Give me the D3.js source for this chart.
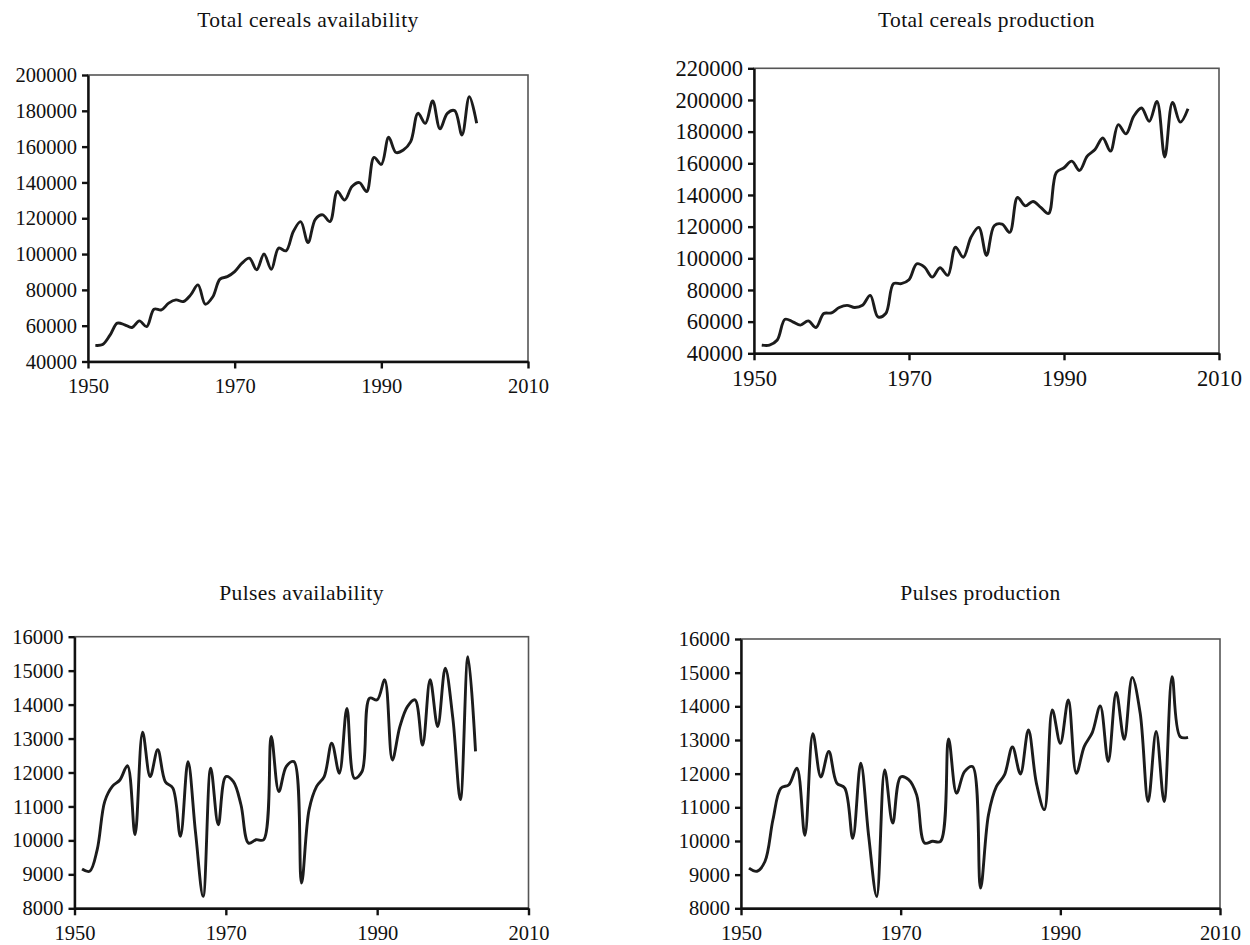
<!DOCTYPE html>
<html>
  <head>
    <meta charset="utf-8">
    <title>Cereals and pulses</title>
    <style>
    body { margin: 0; border: 0; overflow: hidden; background: #fff; }
    .axis path, .axis line {
      fill: none;
      stroke: #111;
      stroke-width: 2.4px;
    }
    .axis text {
      font-family: "Liberation Serif", serif;
      font-size: 20.5px;
      fill: #111;
    }
    .big .axis text {
      font-size: 22.5px;
    }
    .title {
      font-family: "Liberation Serif", serif;
      font-size: 21.5px;
      letter-spacing: 0.4px;
      fill: #111;
    }
    .frame {
      fill: none;
      stroke: #555;
      stroke-width: 1.6px;
    }
    .series {
      fill: none;
      stroke: #1c1c1c;
      stroke-width: 2.9px;
      stroke-linejoin: round;
    }
    </style>
  </head>
  <body>
    <script src="https://cdnjs.cloudflare.com/ajax/libs/d3/7.8.5/d3.min.js"></script>
    <script>
// data (thousand tonnes)
var cerealYears = [1951, 1952, 1953, 1954, 1955, 1956, 1957, 1958, 1959, 1960,
  1961, 1962, 1963, 1964, 1965, 1966, 1967, 1968, 1969, 1970,
  1971, 1972, 1973, 1974, 1975, 1976, 1977, 1978, 1979, 1980,
  1981, 1982, 1983, 1984, 1985, 1986, 1987, 1988, 1989, 1990,
  1991, 1992, 1993, 1994, 1995, 1996, 1997, 1998, 1999, 2000,
  2001, 2002, 2003];
var prodYears = cerealYears.concat([2004, 2005, 2006]);

var cerealAvail = [49000, 49500, 54700, 61400, 60500, 59000, 62700, 59500, 69200, 68800,
  72600, 74400, 73500, 77200, 82800, 72000, 76000, 86000, 87400, 90200,
  94900, 97700, 91200, 100000, 91500, 103300, 101800, 112600, 118100, 106400,
  119400, 121900, 118100, 134900, 130200, 137700, 139900, 134900, 154000, 150100,
  165200, 156700, 158100, 162800, 178600, 173000, 185500, 169900, 178600, 180100,
  166500, 187900, 173000];

var cerealProd = [45200, 45200, 48400, 61500, 59900, 57800, 60500, 56300, 65100, 65500,
  68900, 70300, 68900, 70300, 76600, 63000, 65100, 84000, 84000, 86500,
  96500, 94400, 88100, 94000, 89200, 107000, 100700, 113300, 119500, 101800,
  120600, 121600, 116400, 138400, 133100, 135900, 132100, 128300, 154100, 157200,
  161400, 155500, 164500, 168700, 176000, 167700, 184400, 178600, 189700, 194900,
  186500, 199100, 164000, 198500, 186000, 194500];

var pulsesAvail = [9160, 9090, 9730, 11150, 11590, 11780, 12200, 10170, 13190, 11880,
  12670, 11730, 11540, 10120, 12320, 10220, 8350, 12130, 10460, 11880,
  11730, 11050, 9920, 10020, 10020, 13060, 11440, 12180, 12320, 8745,
  10900, 11590, 11880, 12860, 11980, 13890, 11830, 12030, 14190, 14140,
  14730, 12370, 13350, 13940, 14140, 12810, 14730, 13350, 15070, 13600,
  11200, 15410, 12620];

var pulsesProd = [9195, 9100, 9390, 10630, 11570, 11670, 12160, 10170, 13190, 11900,
  12660, 11720, 11570, 10080, 12310, 10130, 8350, 12110, 10530, 11900,
  11820, 11370, 9940, 9990, 9990, 13030, 11420, 12060, 12210, 8600,
  10780, 11620, 11960, 12790, 11990, 13300, 11720, 10930, 13890, 12900,
  14190, 12010, 12810, 13220, 14010, 12360, 14410, 13020, 14860, 13800,
  11170, 13250, 11170, 14880, 13100, 13080];

var xTicks = [1950, 1970, 1990, 2010];
var cerealAvailTicks = [40000, 60000, 80000, 100000, 120000, 140000, 160000, 180000, 200000];
var cerealProdTicks = [40000, 60000, 80000, 100000, 120000, 140000, 160000, 180000, 200000, 220000];
var pulsesTicks = [8000, 9000, 10000, 11000, 12000, 13000, 14000, 15000, 16000];

var titles = ["Total cereals availability", "Total cereals production",
  "Pulses availability", "Pulses production"];

var width = 1250, height = 945;

var svg = d3.select("body").append("svg")
  .attr("width", width)
  .attr("height", height);

svg.append("rect").attr("width", width).attr("height", height).attr("fill", "#fff");

// where each small chart sits on the page
var panels = [
  {title: titles[0], years: cerealYears, values: cerealAvail, yTicks: cerealAvailTicks,
   left: 88, right: 528, top: 75, bottom: 361.5, titleY: 27, cls: ""},
  {title: titles[1], years: prodYears, values: cerealProd, yTicks: cerealProdTicks,
   left: 754, right: 1219, top: 68.3, bottom: 353.3, titleY: 27, cls: "big"},
  {title: titles[2], years: cerealYears, values: pulsesAvail, yTicks: pulsesTicks,
   left: 74.5, right: 528.5, top: 636.7, bottom: 908.3, titleY: 600, cls: ""},
  {title: titles[3], years: prodYears, values: pulsesProd, yTicks: pulsesTicks,
   left: 741, right: 1220, top: 639, bottom: 908.3, titleY: 600, cls: ""}
];

panels.forEach(function(p) {
  var x = d3.scaleLinear().domain([1950, 2010]).range([p.left, p.right]),
      y = d3.scaleLinear().domain(d3.extent(p.yTicks)).range([p.bottom, p.top]);

  var g = svg.append("g").attr("class", p.cls);

  g.append("rect")
    .attr("class", "frame")
    .attr("x", p.left)
    .attr("y", p.top)
    .attr("width", p.right - p.left)
    .attr("height", p.bottom - p.top);

  var line = d3.line()
    .x(function(d) { return x(d[0]); })
    .y(function(d) { return y(d[1]); })
    .curve(d3.curveCatmullRom.alpha(0.5));

  g.append("path")
    .attr("class", "series")
    .datum(d3.zip(p.years, p.values))
    .attr("d", line);

  g.append("g")
    .attr("class", "axis")
    .attr("transform", "translate(0," + p.bottom + ")")
    .call(d3.axisBottom(x).tickValues(xTicks).tickSize(7).tickSizeOuter(0)
      .tickPadding(10).tickFormat(d3.format("d")));

  g.append("g")
    .attr("class", "axis")
    .attr("transform", "translate(" + p.left + ",0)")
    .call(d3.axisLeft(y).tickValues(p.yTicks).tickSize(6).tickSizeOuter(0)
      .tickPadding(5).tickFormat(d3.format("d")));

  g.append("text")
    .attr("class", "title")
    .attr("x", (p.left + p.right) / 2)
    .attr("y", p.titleY)
    .attr("text-anchor", "middle")
    .text(p.title);
});
    </script>
  </body>
</html>
